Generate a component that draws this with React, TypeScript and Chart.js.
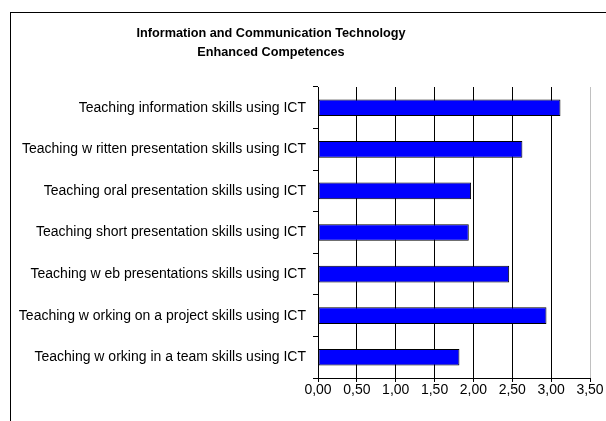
import React, { useEffect, useRef } from "react";
import { Chart, registerables } from "chart.js";

Chart.register(...registerables);

const categories = [
  "Teaching information skills using ICT",
  "Teaching w ritten presentation skills using ICT",
  "Teaching oral presentation skills using ICT",
  "Teaching short presentation skills using ICT",
  "Teaching w eb presentations skills using ICT",
  "Teaching w orking on a project skills using ICT",
  "Teaching w orking in a team skills using ICT",
];
const values = [3.12, 2.63, 1.97, 1.94, 2.46, 2.94, 1.82];
const titleLines = ["Information and Communication Technology", "Enhanced Competences"];
const xMin = 0;
const xMax = 3.5;
const xStep = 0.5;

const FONT = "'Liberation Sans', Arial, Helvetica, sans-serif";

export default function App() {
  const ref = useRef<HTMLCanvasElement | null>(null);

  useEffect(() => {
    if (!ref.current) return;
    const framePlugin = {
      id: "frameAndTitle",
      beforeDraw(chart: any) {
        const c = chart.ctx;
        c.save();
        c.fillStyle = "#fff";
        c.fillRect(0, 0, chart.width, chart.height);
        c.strokeStyle = "#000";
        c.lineWidth = 1;
        c.strokeRect(10.5, 12.5, 1000, 1000);
        c.fillStyle = "#000";
        c.font = `bold 12.7px ${FONT}`;
        c.textAlign = "center";
        c.textBaseline = "middle";
        titleLines.forEach((t, i) => c.fillText(t, 271, 33 + i * 19));
        c.restore();
      },
    };
    const chart = new Chart(ref.current, {
      type: "bar",
      data: {
        labels: categories,
        datasets: [
          {
            data: values,
            backgroundColor: "#0000FF",
            borderColor: "#000",
            borderWidth: 1,
            borderSkipped: false,
            barPercentage: 0.4,
            categoryPercentage: 1,
          },
        ],
      },
      options: {
        indexAxis: "y",
        responsive: false,
        animation: false,
        layout: { padding: { top: 87, right: 16, left: 0, bottom: 0 } },
        plugins: { legend: { display: false }, tooltip: { enabled: false }, title: { display: false } },
        scales: {
          x: {
            min: xMin,
            max: xMax,
            ticks: {
              stepSize: xStep,
              color: "#000",
              padding: 0,
              font: { family: FONT, size: 14 },
              callback: (v: any) => Number(v).toFixed(2).replace(".", ","),
            },
            grid: {
              color: (ctx: any) => (ctx.tick && ctx.tick.value === xMax ? "#c0c0c0" : "#000"),
              tickColor: "#000",
              tickLength: 4,
              lineWidth: 1,
            },
            border: { display: true, color: "#000" },
            afterFit: (s: any) => {
              s.height = 43;
            },
          },
          y: {
            ticks: {
              color: "#000",
              padding: 7,
              font: { family: FONT, size: 14 },
            },
            grid: {
              offset: true,
              drawOnChartArea: false,
              drawTicks: true,
              tickLength: 5,
              color: "#000",
            },
            border: { display: true, color: "#000" },
            afterFit: (s: any) => {
              s.width = 318;
            },
          },
        },
      },
      plugins: [framePlugin],
    });
    return () => chart.destroy();
  }, []);

  return (
    <div style={{ position: "absolute", left: 0, top: 0, width: 606, height: 421 }}>
      <canvas ref={ref} width={606} height={421} />
    </div>
  );
}
